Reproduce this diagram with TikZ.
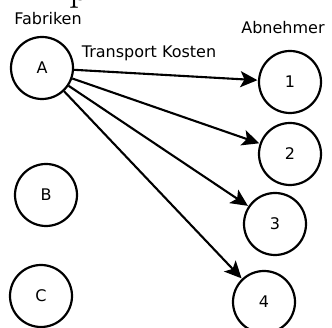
\documentclass[tikz,border=0pt]{standalone}
\usepackage{fontspec}
\setsansfont{DejaVu Sans}
\usetikzlibrary{arrows.meta}
\tikzset{
  station/.style={circle, draw, line width=2.2pt, minimum size=62pt, inner sep=0pt,
    font=\sffamily\fontsize{16}{18}\selectfont},
  caption/.style={font=\sffamily\fontsize{16}{18}\selectfont, inner sep=0pt},
  route/.style={line width=2.1pt, -{Stealth[length=17pt,width=16pt,inset=4pt]}, shorten >=0.5pt}
}
\begin{document}
\begin{tikzpicture}[x=1pt,y=-1pt]
  \useasboundingbox (0,0) rectangle (332,328);
  \clip (0,0) rectangle (332,328);
  % heading, mostly above the visible area
  \node[anchor=base west, inner sep=0pt, font=\fontsize{40}{48}\selectfont] (head) at (69,0.5) {p};
  % factories
  \node[station] (A) at (42,68) {A};
  \node[station] (B) at (46,195) {B};
  \node[station] (C) at (41,296) {C};
  % customers
  \node[station] (k1) at (290,82) {1};
  \node[station] (k2) at (290,154) {2};
  \node[station] (k3) at (275,224) {3};
  \node[station] (k4) at (264,302) {4};
  % labels
  \node[caption] (fab) at (48,19) {Fabriken};
  \node[caption] (abn) at (283,28) {Abnehmer};
  \node[caption] (kost) at (149,53) {Transport Kosten};
  % transport routes
  \draw[route] (A) -- (k1);
  \draw[route] (A) -- (k2);
  \draw[route] (A) -- (k3);
  \draw[route] (A) -- (k4);
\end{tikzpicture}
\end{document}
